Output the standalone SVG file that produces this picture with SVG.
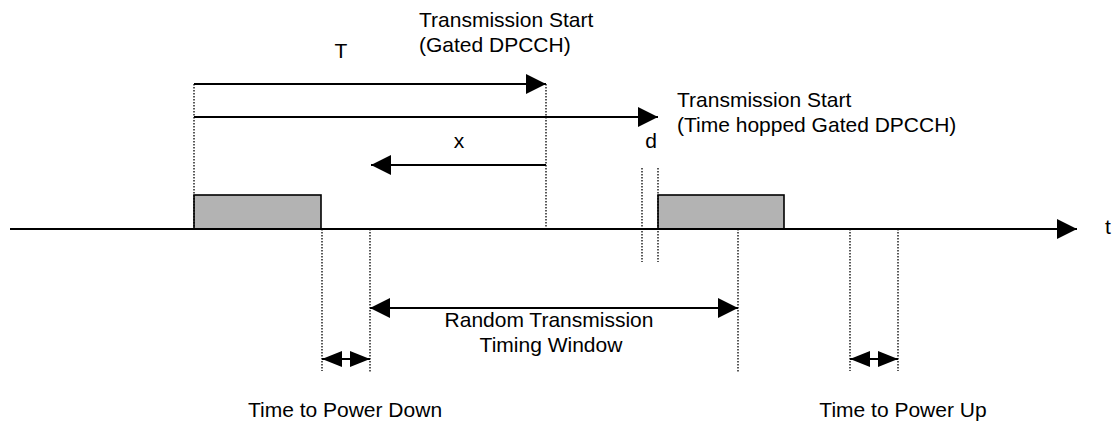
<svg xmlns="http://www.w3.org/2000/svg" width="1114" height="429" viewBox="0 0 1114 429">
  <style>
    .lbl { font-family: "Liberation Sans", Arial, sans-serif; font-size: 21px; fill: #000; }
    .mid { text-anchor: middle; }
    .solid { stroke: #000; stroke-width: 2; fill: none; }
    .dot { stroke: #000; stroke-width: 1.3; stroke-dasharray: 1.5 1.5; fill: none; }
    .slot { fill: #b3b3b3; stroke: #000; stroke-width: 1.6; }
  </style>
  <defs>
    <marker id="head" viewBox="0 0 20 20" refX="20" refY="10" markerWidth="20" markerHeight="20" markerUnits="userSpaceOnUse" orient="auto-start-reverse">
      <path d="M0,0 L20,10 L0,20 z" fill="#000"/>
    </marker>
    <marker id="head-s" viewBox="0 0 20 16" refX="20" refY="8" markerWidth="20" markerHeight="16" markerUnits="userSpaceOnUse" orient="auto-start-reverse">
      <path d="M0,0 L20,8 L0,16 z" fill="#000"/>
    </marker>
  </defs>
  <rect width="1114" height="429" fill="#fff"/>

  <!-- transmission slots -->
  <g id="slot-gated">
    <rect class="slot" x="194" y="195" width="127" height="34"/>
  </g>
  <g id="slot-hopped">
    <rect class="slot" x="658" y="195" width="126" height="34"/>
  </g>

  <!-- guide lines -->
  <g id="guides">
    <line class="dot" x1="194" y1="84" x2="194" y2="229"/>
    <line class="dot" x1="546" y1="84" x2="546" y2="229"/>
    <line class="dot" x1="642" y1="168" x2="642" y2="262"/>
    <line class="dot" x1="658" y1="168" x2="658" y2="262"/>
    <line class="dot" x1="322" y1="229" x2="322" y2="371"/>
    <line class="dot" x1="370" y1="229" x2="370" y2="373"/>
    <line class="dot" x1="738" y1="229" x2="738" y2="373"/>
    <line class="dot" x1="850" y1="229" x2="850" y2="371"/>
    <line class="dot" x1="898" y1="229" x2="898" y2="371"/>
  </g>

  <!-- arrows -->
  <g id="connectors">
    <line id="time-axis" class="solid" x1="10" y1="229" x2="1077" y2="229" marker-end="url(#head)"/>
    <line id="arrow-T" class="solid" x1="194" y1="84" x2="546" y2="84" marker-end="url(#head)"/>
    <line id="arrow-hop" class="solid" x1="194" y1="117" x2="658" y2="117" marker-end="url(#head)"/>
    <line id="arrow-x" class="solid" x1="546" y1="165" x2="371" y2="165" marker-end="url(#head)"/>
    <line id="arrow-window" class="solid" x1="370" y1="308" x2="738" y2="308" marker-start="url(#head)" marker-end="url(#head)"/>
    <line id="arrow-down" class="solid" x1="322" y1="359" x2="370" y2="359" marker-start="url(#head-s)" marker-end="url(#head-s)"/>
    <line id="arrow-up" class="solid" x1="850" y1="359" x2="898" y2="359" marker-start="url(#head-s)" marker-end="url(#head-s)"/>
  </g>

  <!-- labels -->
  <g id="labels">
    <text class="lbl" x="419" y="27">Transmission Start</text>
    <text class="lbl" x="419" y="52">(Gated DPCCH)</text>
    <text class="lbl mid" x="341" y="58">T</text>
    <text class="lbl" x="677" y="107">Transmission Start</text>
    <text class="lbl" x="677" y="132">(Time hopped Gated DPCCH)</text>
    <text class="lbl mid" x="459" y="148">x</text>
    <text class="lbl mid" x="651" y="148">d</text>
    <text class="lbl" x="1105" y="234">t</text>
    <text class="lbl mid" x="549" y="327">Random Transmission</text>
    <text class="lbl mid" x="551" y="352">Timing Window</text>
    <text class="lbl mid" x="345" y="417">Time to Power Down</text>
    <text class="lbl mid" x="903" y="417">Time to Power Up</text>
  </g>
</svg>
